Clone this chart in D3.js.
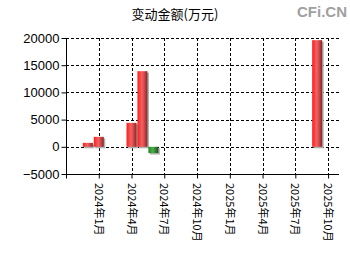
<!DOCTYPE html>
<html><head><meta charset="utf-8">
<script src="https://cdn.jsdelivr.net/npm/d3@7"></script>
<style>body{margin:0;background:#fff}svg{display:block}</style>
</head><body>
<script>
const months = ["2023-12","2024-01","2024-04","2024-05","2024-06","2025-09"];
const values = [730, 1830, 4400, 13900, -1150, 19600];
const xTickMonths = ["2024-01","2024-04","2024-07","2024-10","2025-01","2025-04","2025-07","2025-10"];
const xTickLabels = ["2024年1月","2024年4月","2024年7月","2024年10月","2025年1月","2025年4月","2025年7月","2025年10月"];
const yTicks = [-5000, 0, 5000, 10000, 15000, 20000];
const title = "变动金额(万元)";

const W = 350, H = 260;
const mIdx = s => { const [y, m] = s.split("-").map(Number); return y * 12 + m - 1; };
const start = mIdx("2023-10"), end = mIdx("2025-11");
const L = 66, R = 339, T = 38, B = 174;
const x = d3.scaleLinear().domain([start, end]).range([L, R]);
const y = d3.scaleLinear().domain([-5000, 20000]).range([B, T]);

const svg = d3.select("body").append("svg").attr("width", W).attr("height", H);
const defs = svg.append("defs");
const gr = defs.append("linearGradient").attr("id", "gRed").attr("x1", 0).attr("x2", 1).attr("y1", 0).attr("y2", 0);
gr.append("stop").attr("offset", "0%").attr("stop-color", "#ff1a1a");
gr.append("stop").attr("offset", "45%").attr("stop-color", "#f26464");
gr.append("stop").attr("offset", "75%").attr("stop-color", "#c84040");
gr.append("stop").attr("offset", "100%").attr("stop-color", "#7a2a2a");
const gg = defs.append("linearGradient").attr("id", "gGreen").attr("x1", 0).attr("x2", 1).attr("y1", 0).attr("y2", 0);
gg.append("stop").attr("offset", "0%").attr("stop-color", "#1f8a1f");
gg.append("stop").attr("offset", "45%").attr("stop-color", "#4cae4c");
gg.append("stop").attr("offset", "75%").attr("stop-color", "#2e7a2e");
gg.append("stop").attr("offset", "100%").attr("stop-color", "#1d4d1d");

svg.append("text").attr("x", 175).attr("y", 19).attr("text-anchor", "middle")
  .attr("font-family", "Noto Sans CJK SC, sans-serif").attr("font-size", 13).attr("fill", "#000").text(title);
svg.append("text").attr("x", 347).attr("y", 17).attr("text-anchor", "end")
  .attr("font-family", "Liberation Sans, Arial, sans-serif").attr("font-size", 15).attr("font-weight", "bold")
  .attr("fill", "#a0a0a0").text("CFi.CN");

// grid
const grid = svg.append("g").attr("stroke", "#000").attr("stroke-width", 1).attr("stroke-dasharray", "3,2").attr("shape-rendering", "crispEdges");
yTicks.filter(v => v !== -5000).forEach(v => {
  grid.append("line").attr("x1", L).attr("x2", R).attr("y1", Math.round(y(v)) + 0.5).attr("y2", Math.round(y(v)) + 0.5);
});
xTickMonths.forEach(m => {
  const px = Math.round(x(mIdx(m))) + 0.5;
  grid.append("line").attr("x1", px).attr("x2", px).attr("y1", T).attr("y2", B);
});

// bars
const bw = 10;
const bars = svg.append("g");
months.forEach((m, i) => {
  const v = values[i];
  const cx = x(mIdx(m));
  const y0 = Math.min(y(v), y(0)), h = Math.abs(y(v) - y(0));
  bars.append("rect").attr("x", cx - bw / 2 + 1.5).attr("y", y0 + 1.5).attr("width", bw).attr("height", h)
    .attr("fill", "#b0b0b0");
  bars.append("rect").attr("x", cx - bw / 2).attr("y", y0).attr("width", bw).attr("height", h)
    .attr("fill", v >= 0 ? "url(#gRed)" : "url(#gGreen)");
});

// axes
const yAxis = svg.append("g").attr("transform", `translate(${L + 0.5},0)`)
  .call(d3.axisLeft(y).tickValues(yTicks).tickSize(5).tickPadding(2).tickFormat(d3.format("d")));
yAxis.select(".domain").attr("stroke", "#000").attr("d", `M0,${T}V${B}`);
yAxis.selectAll("text").attr("font-family", "Liberation Sans, Arial, sans-serif").attr("font-size", 13).attr("fill", "#000");

const xAxis = svg.append("g").attr("transform", `translate(0,${B + 0.5})`)
  .call(d3.axisBottom(x).tickValues([start].concat(xTickMonths.map(mIdx))).tickSize(4).tickFormat(""));
xAxis.select(".domain").attr("stroke", "#000").attr("d", `M${L},0H${R}`);
xAxis.selectAll(".tick line").attr("stroke", "#000");

const labels = svg.append("g");
xTickMonths.forEach((m, i) => {
  const px = x(mIdx(m));
  labels.append("text").attr("transform", `translate(${px - 4},${B + 9}) rotate(90)`)
    .attr("font-family", "Noto Sans CJK SC, sans-serif").attr("font-size", 11).attr("fill", "#000")
    .text(xTickLabels[i]);
});
</script>
</body></html>
